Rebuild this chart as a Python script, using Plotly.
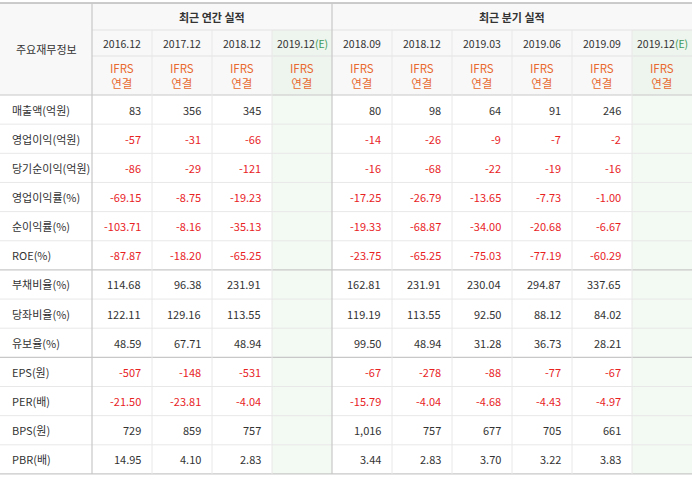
import plotly.graph_objects as go

groups = ["최근 연간 실적", "최근 분기 실적"]
periods = ["2016.12", "2017.12", "2018.12", "2019.12", "2018.09", "2018.12", "2019.03", "2019.06", "2019.09", "2019.12"]
estimate = [False, False, False, True, False, False, False, False, False, True]
rows = ["매출액(억원)", "영업이익(억원)", "당기순이익(억원)", "영업이익률(%)", "순이익률(%)", "ROE(%)",
        "부채비율(%)", "당좌비율(%)", "유보율(%)", "EPS(원)", "PER(배)", "BPS(원)", "PBR(배)"]
values = [
    ["83", "356", "345", "", "80", "98", "64", "91", "246", ""],
    ["-57", "-31", "-66", "", "-14", "-26", "-9", "-7", "-2", ""],
    ["-86", "-29", "-121", "", "-16", "-68", "-22", "-19", "-16", ""],
    ["-69.15", "-8.75", "-19.23", "", "-17.25", "-26.79", "-13.65", "-7.73", "-1.00", ""],
    ["-103.71", "-8.16", "-35.13", "", "-19.33", "-68.87", "-34.00", "-20.68", "-6.67", ""],
    ["-87.87", "-18.20", "-65.25", "", "-23.75", "-65.25", "-75.03", "-77.19", "-60.29", ""],
    ["114.68", "96.38", "231.91", "", "162.81", "231.91", "230.04", "294.87", "337.65", ""],
    ["122.11", "129.16", "113.55", "", "119.19", "113.55", "92.50", "88.12", "84.02", ""],
    ["48.59", "67.71", "48.94", "", "99.50", "48.94", "31.28", "36.73", "28.21", ""],
    ["-507", "-148", "-531", "", "-67", "-278", "-88", "-77", "-67", ""],
    ["-21.50", "-23.81", "-4.04", "", "-15.79", "-4.04", "-4.68", "-4.43", "-4.97", ""],
    ["729", "859", "757", "", "1,016", "757", "677", "705", "661", ""],
    ["14.95", "4.10", "2.83", "", "3.44", "2.83", "3.70", "3.22", "3.83", ""],
]
group_breaks = [6, 9]

W, H = 692, 479
LW, CW = 92, 60
top, h1, h2, hdr = 3, 30, 56, 95
RH = 29.15
FONT = "Noto Sans CJK KR"

shapes, ann = [], []
def rect(x0, y0, x1, y1, color):
    shapes.append(dict(type="rect", x0=x0, y0=y0, x1=x1, y1=y1, fillcolor=color, line_width=0, layer="below"))
def line(x0, y0, x1, y1, color, w=1):
    shapes.append(dict(type="line", x0=x0, y0=y0, x1=x1, y1=y1, line=dict(color=color, width=w)))
def text(x, y, s, color="#333", size=11, anchor="center", bold=False):
    ann.append(dict(x=x, y=y, text=f"<b>{s}</b>" if bold else s, showarrow=False, xanchor=anchor,
                    yanchor="middle", font=dict(family=FONT, size=size, color=color)))

bottom = hdr + RH * len(rows)
rect(0, top, W, hdr, "#f8f8f8")
for i, e in enumerate(estimate):
    if e:
        x0 = LW + i * CW
        rect(x0, h1, x0 + CW, hdr, "#eef5ee")
        rect(x0, hdr, x0 + CW, bottom, "#f3f9f3")

line(0, top, W, top, "#bbbbbb", 1.5)
line(LW, h1, W, h1, "#e2e2e2")
line(LW, h2, W, h2, "#e2e2e2")
line(0, hdr, W, hdr, "#c8c8c8", 1.2)
for r in range(1, len(rows)):
    y = hdr + r * RH
    if r in group_breaks:
        line(0, y, W, y, "#c8c8c8", 1.2)
    else:
        line(0, y, W, y, "#e8e8e8")
line(0, bottom, W, bottom, "#c8c8c8", 1.2)
for i in range(len(periods)):
    x = LW + i * CW
    if i == 0 or i == 4:
        line(x, top, x, bottom, "#c8c8c8", 1.2)
    else:
        line(x, h1, x, bottom, "#e8e8e8")

text(LW / 2, (top + hdr) / 2, "주요재무정보", size=11)
text(LW + 2 * CW, (top + h1) / 2, groups[0], bold=True, size=11)
text(LW + 4 * CW + 3 * CW, (top + h1) / 2, groups[1], bold=True, size=11)
for i, p in enumerate(periods):
    cx = LW + i * CW + CW / 2
    s = p + ('<span style="color:#3a9a5a">(E)</span>' if estimate[i] else "")
    text(cx, (h1 + h2) / 2, s, size=10.5)
    text(cx, (h2 + hdr) / 2, "IFRS<br>연결", color="#e8692f", size=11.5)

for r, name in enumerate(rows):
    cy = hdr + r * RH + RH / 2
    text(10, cy, name, anchor="left", size=11)
    for i, v in enumerate(values[r]):
        if v:
            text(LW + (i + 1) * CW - 9, cy, v, color="#e8231f" if v.startswith("-") else "#333",
                 anchor="right", size=11)

fig = go.Figure(go.Scatter(x=[0, W], y=[0, H], mode="markers", marker_opacity=0, hoverinfo="skip"))
fig.update_layout(width=W, height=H, margin=dict(l=0, r=0, t=0, b=0), paper_bgcolor="white",
                  plot_bgcolor="white", shapes=shapes, annotations=ann, showlegend=False,
                  xaxis=dict(range=[0, W], visible=False, fixedrange=True),
                  yaxis=dict(range=[H, 0], visible=False, fixedrange=True))
fig.write_html("out.html", config={"displayModeBar": False},
               post_script="document.body.style.margin='0';document.body.style.overflow='hidden';")
